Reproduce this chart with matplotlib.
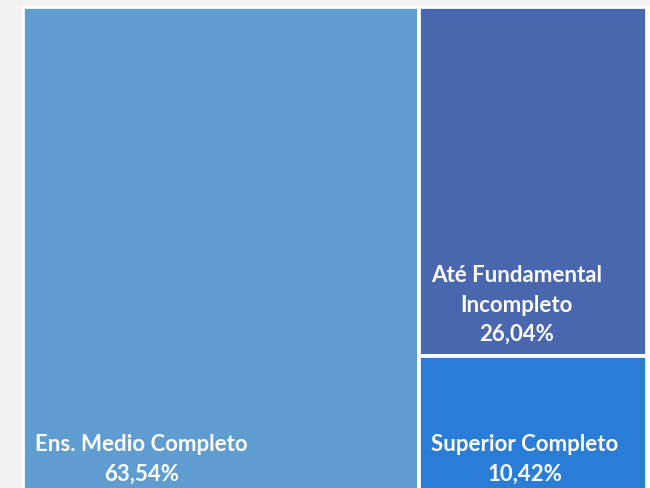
import matplotlib
matplotlib.use("Agg")
import matplotlib.pyplot as plt
from matplotlib.patches import Rectangle

categories = ["Ens. Medio Completo", "Até Fundamental\nIncompleto", "Superior Completo"]
values = [63.54, 26.04, 10.42]
value_labels = ["63,54%", "26,04%", "10,42%"]
colors = ["#5f9dd1", "#4967ae", "#2a7dd6"]

W, H = 650, 488
fig = plt.figure(figsize=(W / 100, H / 100), dpi=100)
fig.patch.set_facecolor("#f2f2f2")
# white panel
fig.patches.append(Rectangle((22 / W, 0), 1 - 22 / W, 1 - 6 / H, transform=fig.transFigure,
                             facecolor="white", edgecolor="none", zorder=-10))

ax = fig.add_axes([23 / W, -8 / H, 623.5 / W, 489 / H])
ax.set_zorder(5)
ax.patch.set_alpha(0)
ax.set_xlim(0, 1)
ax.set_ylim(0, 1)
ax.axis("off")

total = sum(values)
# simple slice-and-dice treemap: first item takes a full-height column
w0 = values[0] / total
rects = [(0, 0, w0, 1)]
rest = sum(values[1:])
y = 1.0
for v in values[1:]:
    h = v / rest
    y -= h
    rects.append((w0, y, 1 - w0, h))

for (x, y0, w, h), c, cat, lab in zip(rects, colors, categories, value_labels):
    ax.add_patch(Rectangle((x, y0), w, h, facecolor=c, edgecolor="white", linewidth=2.7))
    ax.annotate(cat + "\n" + lab, xy=(x, y0), xytext=(8.8, 8), textcoords="offset points",
                ha="left", va="bottom", multialignment="center", color="white",
                fontsize=16, fontweight="bold", family="Lato", linespacing=1.5)

fig.savefig("out.png", dpi=100, facecolor=fig.get_facecolor())
